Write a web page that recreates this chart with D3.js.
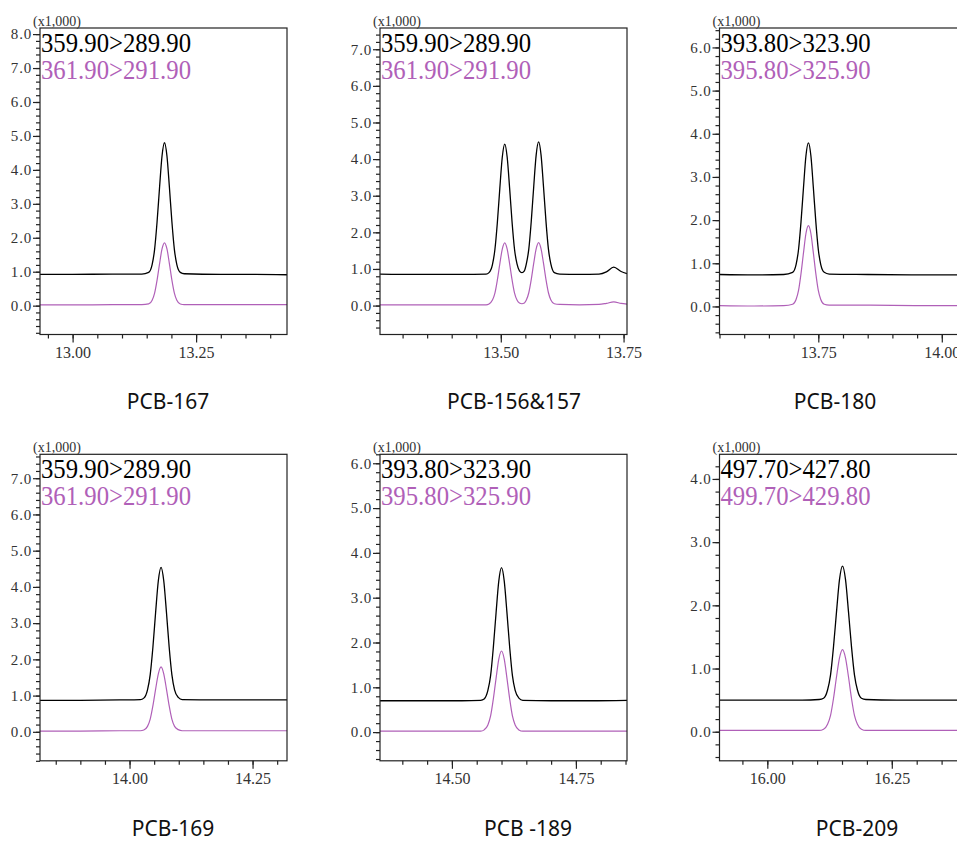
<!DOCTYPE html>
<html>
<head>
<meta charset="utf-8">
<script src="https://cdn.jsdelivr.net/npm/d3@7"></script>
<style>
  body { margin: 0; background: #fff; }
  svg { display: block; }
  .serif { font-family: "Liberation Serif", "DejaVu Serif", "Times New Roman", serif; }
  .sans { font-family: "Noto Sans", "Open Sans", sans-serif; }
</style>
</head>
<body>
<script>
// panel titles and MRM transitions
var titles = ["PCB-167", "PCB-156&157", "PCB-180", "PCB-169", "PCB -189", "PCB-209"];
var quantIons = ["359.90>289.90", "359.90>289.90", "393.80>323.90", "359.90>289.90", "393.80>323.90", "497.70>427.80"];
var qualIons  = ["361.90>291.90", "361.90>291.90", "395.80>325.90", "361.90>291.90", "395.80>325.90", "499.70>429.80"];

// axis ranges (retention time, min) and intensity (x1,000)
var xDomains = [[12.934, 13.434], [13.254, 13.757], [13.55, 14.05], [13.818, 14.32], [14.355, 14.853], [15.904, 16.40]];
var yDomains = [[-0.85, 8.18], [-0.79, 7.58], [-0.65, 6.45], [-0.80, 7.66], [-0.64, 6.20], [-0.46, 4.39]];
var yTopLabel = [8, 7, 6, 7, 6, 4];
var xLabels = [[13.00, 13.25], [13.50, 13.75], [13.75, 14.00], [14.00, 14.25], [14.50, 14.75], [16.00, 16.25]];

// PCB-167
var t167 = [12.934, 13.00, 13.08, 13.14, 13.154, 13.161, 13.166, 13.171, 13.176, 13.181, 13.186, 13.191, 13.196, 13.201, 13.206, 13.211, 13.218, 13.226, 13.30, 13.37, 13.434];
var b167 = [0.92, 0.92, 0.93, 0.93, 0.98, 1.21, 1.66, 2.47, 3.48, 4.41, 4.80, 4.41, 3.48, 2.47, 1.66, 1.21, 0.98, 0.94, 0.92, 0.92, 0.91];
var p167 = [0.02, 0.02, 0.03, 0.03, 0.05, 0.16, 0.37, 0.75, 1.23, 1.67, 1.85, 1.67, 1.23, 0.75, 0.37, 0.16, 0.05, 0.03, 0.03, 0.03, 0.03];

// PCB-156&157
var t156 = [13.254, 13.33, 13.42, 13.470, 13.476, 13.483, 13.488, 13.493, 13.498, 13.503, 13.508, 13.513, 13.518, 13.523, 13.528, 13.533, 13.538, 13.543, 13.548, 13.552, 13.557, 13.562, 13.567, 13.572, 13.577, 13.582, 13.587, 13.592, 13.597, 13.602, 13.609, 13.62, 13.66, 13.70, 13.715, 13.73, 13.745, 13.757];
var b156 = [0.86, 0.85, 0.85, 0.86, 0.90, 1.12, 1.53, 2.27, 3.20, 4.05, 4.41, 4.05, 3.20, 2.27, 1.53, 1.14, 0.95, 0.90, 0.95, 1.14, 1.54, 2.30, 3.24, 4.11, 4.47, 4.11, 3.24, 2.30, 1.54, 1.13, 0.90, 0.86, 0.85, 0.86, 0.92, 1.05, 0.93, 0.87];
var p156 = [0.02, 0.02, 0.02, 0.02, 0.045, 0.15, 0.34, 0.70, 1.14, 1.54, 1.71, 1.54, 1.14, 0.70, 0.34, 0.15, 0.07, 0.05, 0.07, 0.15, 0.35, 0.71, 1.15, 1.55, 1.72, 1.55, 1.15, 0.71, 0.35, 0.15, 0.05, 0.03, 0.02, 0.03, 0.06, 0.10, 0.06, 0.04];

// PCB-180
var t180 = [13.55, 13.62, 13.68, 13.698, 13.705, 13.710, 13.715, 13.720, 13.725, 13.730, 13.735, 13.740, 13.745, 13.750, 13.755, 13.762, 13.772, 13.85, 13.95, 14.05];
var b180 = [0.74, 0.73, 0.74, 0.79, 0.97, 1.32, 1.96, 2.75, 3.49, 3.79, 3.49, 2.75, 1.96, 1.32, 0.97, 0.79, 0.75, 0.74, 0.73, 0.73];
var p180 = [0.02, 0.01, 0.02, 0.05, 0.16, 0.37, 0.76, 1.24, 1.69, 1.87, 1.69, 1.24, 0.76, 0.37, 0.16, 0.05, 0.03, 0.03, 0.02, 0.02];

// PCB-169
var t169 = [13.818, 13.90, 13.98, 14.022, 14.029, 14.0365, 14.042, 14.0475, 14.053, 14.0585, 14.064, 14.0695, 14.075, 14.0805, 14.086, 14.0915, 14.099, 14.107, 14.18, 14.25, 14.32];
var b169 = [0.87, 0.87, 0.88, 0.89, 0.93, 1.16, 1.58, 2.34, 3.30, 4.17, 4.54, 4.17, 3.30, 2.34, 1.58, 1.16, 0.95, 0.89, 0.88, 0.88, 0.88];
var p169 = [0.02, 0.02, 0.03, 0.03, 0.05, 0.15, 0.35, 0.72, 1.18, 1.60, 1.79, 1.60, 1.18, 0.72, 0.35, 0.15, 0.06, 0.03, 0.03, 0.03, 0.03];

// PCB-189
var t189 = [14.355, 14.43, 14.52, 14.558, 14.565, 14.5725, 14.578, 14.5835, 14.589, 14.5945, 14.600, 14.6055, 14.611, 14.6165, 14.622, 14.6275, 14.635, 14.643, 14.70, 14.78, 14.853];
var b189 = [0.70, 0.70, 0.70, 0.71, 0.74, 0.93, 1.26, 1.89, 2.66, 3.37, 3.67, 3.37, 2.66, 1.89, 1.26, 0.93, 0.76, 0.71, 0.70, 0.70, 0.71];
var p189 = [0.02, 0.02, 0.02, 0.02, 0.05, 0.16, 0.36, 0.74, 1.20, 1.63, 1.81, 1.63, 1.20, 0.74, 0.36, 0.16, 0.05, 0.02, 0.02, 0.02, 0.02];

// PCB-209
var t209 = [15.904, 15.98, 16.07, 16.104, 16.113, 16.121, 16.127, 16.133, 16.139, 16.145, 16.151, 16.157, 16.163, 16.169, 16.175, 16.181, 16.189, 16.198, 16.26, 16.33, 16.40];
var b209 = [0.50, 0.50, 0.50, 0.51, 0.53, 0.66, 0.90, 1.35, 1.90, 2.41, 2.62, 2.41, 1.90, 1.35, 0.90, 0.66, 0.53, 0.51, 0.50, 0.50, 0.50];
var p209 = [0.02, 0.02, 0.02, 0.02, 0.04, 0.12, 0.26, 0.53, 0.87, 1.17, 1.30, 1.17, 0.87, 0.53, 0.26, 0.12, 0.04, 0.02, 0.02, 0.02, 0.02];

var times = [t167, t156, t180, t169, t189, t209];
var quantSeries = [b167, b156, b180, b169, b189, b209];
var qualSeries = [p167, p156, p180, p169, p189, p209];

// layout of the 3x2 grid
var colLeft = [40, 380, 719.5];
var rowTop = [28, 454.3];
var plotW = 247, plotH = 306.5;
var titleX = [168, 514, 835, 173, 528, 857];
var titleY = [409, 836];

var black = "#000", purple = "#b060b8";

var svg = d3.select("body").append("svg")
    .attr("width", 957)
    .attr("height", 842);

titles.forEach(function(t, i) {
    drawPanel(i);
});

function drawPanel(i) {
    var row = Math.floor(i / 3), col = i % 3;
    var g = svg.append("g")
        .attr("transform", "translate(" + colLeft[col] + "," + rowTop[row] + ")");

    var x = d3.scaleLinear().domain(xDomains[i]).range([0, plotW]);
    var y = d3.scaleLinear().domain(yDomains[i]).range([plotH, 0]);

    // tick positions
    var yd = yDomains[i], xd = xDomains[i];
    var yMinor = d3.range(Math.ceil(yd[0] * 5), Math.floor(yd[1] * 5) + 1).map(function(k) { return k / 5; });
    var yMajor = d3.range(0, yTopLabel[i] + 1);
    var xMinor = d3.range(Math.ceil(xd[0] * 20 - 1e-6), Math.floor(xd[1] * 20 + 1e-6) + 1).map(function(k) { return k / 20; });

    // y axis
    var yMin = g.append("g")
        .call(d3.axisLeft(y).tickValues(yMinor).tickSize(4).tickFormat(""));
    var yMaj = g.append("g")
        .call(d3.axisLeft(y).tickValues(yMajor).tickSize(7).tickPadding(1).tickFormat(d3.format(".1f")));
    yMaj.attr("font-family", null).attr("font-size", null);
    yMaj.selectAll("text")
        .attr("class", "serif")
        .attr("font-size", 15)
        .attr("letter-spacing", 0.8)
        .attr("fill", "#333");

    // x axis
    var xMin = g.append("g")
        .attr("transform", "translate(0," + plotH + ")")
        .call(d3.axisBottom(x).tickValues(xMinor).tickSize(4).tickFormat(""));
    var xMaj = g.append("g")
        .attr("transform", "translate(0," + plotH + ")")
        .call(d3.axisBottom(x).tickValues(xLabels[i]).tickSize(8).tickPadding(4).tickFormat(d3.format(".2f")));
    xMaj.attr("font-family", null).attr("font-size", null);
    xMaj.selectAll("text")
        .attr("class", "serif")
        .attr("font-size", 16)
        .attr("fill", "#333");

    [yMin, yMaj, xMin, xMaj].forEach(function(a) {
        a.select(".domain").remove();
        a.selectAll("line").attr("stroke", "#222").attr("stroke-width", 1.2);
    });

    // traces
    var clipId = "clip" + i;
    g.append("clipPath").attr("id", clipId)
      .append("rect").attr("width", plotW).attr("height", plotH);

    var line = d3.line()
        .x(function(d) { return x(d[0]); })
        .y(function(d) { return y(d[1]); })
        .curve(d3.curveMonotoneX);

    g.append("path")
        .datum(d3.zip(times[i], qualSeries[i]))
        .attr("clip-path", "url(#" + clipId + ")")
        .attr("fill", "none")
        .attr("stroke", purple)
        .attr("stroke-width", 1.2)
        .attr("d", line);

    g.append("path")
        .datum(d3.zip(times[i], quantSeries[i]))
        .attr("clip-path", "url(#" + clipId + ")")
        .attr("fill", "none")
        .attr("stroke", black)
        .attr("stroke-width", 1.3)
        .attr("d", line);

    // frame
    g.append("rect")
        .attr("width", plotW)
        .attr("height", plotH)
        .attr("fill", "none")
        .attr("stroke", "#222")
        .attr("stroke-width", 1.2);

    // scale note
    g.append("text")
        .attr("class", "serif")
        .attr("x", -7)
        .attr("y", -2.5)
        .attr("font-size", 14)
        .attr("fill", "#333")
        .text("(x1,000)");

    // legend
    g.append("text")
        .attr("class", "serif")
        .attr("x", 1)
        .attr("y", 24)
        .attr("font-size", 27)
        .attr("textLength", 150)
        .attr("lengthAdjust", "spacingAndGlyphs")
        .attr("fill", black)
        .text(quantIons[i]);
    g.append("text")
        .attr("class", "serif")
        .attr("x", 1)
        .attr("y", 51)
        .attr("font-size", 27)
        .attr("textLength", 150)
        .attr("lengthAdjust", "spacingAndGlyphs")
        .attr("fill", purple)
        .text(qualIons[i]);

    // compound name
    svg.append("text")
        .attr("class", "sans")
        .attr("x", titleX[i])
        .attr("y", titleY[row])
        .attr("text-anchor", "middle")
        .attr("font-size", 21)
        .attr("fill", "#111")
        .text(titles[i]);
}
</script>
</body>
</html>
